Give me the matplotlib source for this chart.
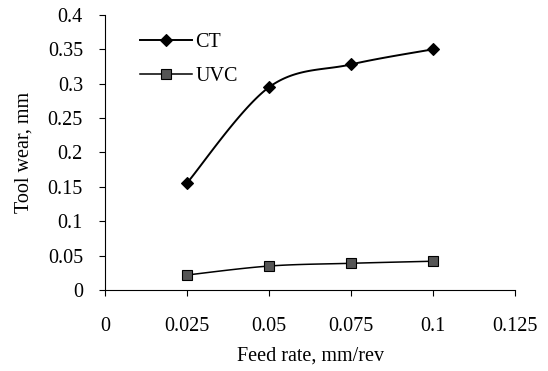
import numpy as np
import matplotlib
matplotlib.use("Agg")
import matplotlib.pyplot as plt

feed_rate = [0.025, 0.05, 0.075, 0.1]
wear_ct = [0.156, 0.295, 0.328, 0.350]
wear_uvc = [0.022, 0.035, 0.039, 0.042]
x_ticks = [0, 0.025, 0.05, 0.075, 0.1, 0.125]
x_tick_labels = ["0", "0.025", "0.05", "0.075", "0.1", "0.125"]
y_ticks = [0, 0.05, 0.1, 0.15, 0.2, 0.25, 0.3, 0.35, 0.4]
y_tick_labels = ["0", "0.05", "0.1", "0.15", "0.2", "0.25", "0.3", "0.35", "0.4"]

plt.rcParams["font.family"] = ["Liberation Serif", "DejaVu Serif"]
FS = 14.5


def smooth_curve(x, y, n=40, tension=1 / 6):
    """Cubic Bezier smoothing through every data point (spreadsheet style)."""
    x = np.asarray(x, float)
    y = np.asarray(y, float)
    px = np.concatenate([[x[0]], x, [x[-1]]])
    py = np.concatenate([[y[0]], y, [y[-1]]])
    xs, ys = [], []
    t = np.linspace(0, 1, n)
    for i in range(len(x) - 1):
        p0 = np.array([px[i + 1], py[i + 1]])
        p3 = np.array([px[i + 2], py[i + 2]])
        c1 = p0 + tension * (np.array([px[i + 2], py[i + 2]]) - np.array([px[i], py[i]]))
        c2 = p3 - tension * (np.array([px[i + 3], py[i + 3]]) - np.array([px[i + 1], py[i + 1]]))
        b = ((1 - t) ** 3)[:, None] * p0 + (3 * (1 - t) ** 2 * t)[:, None] * c1 \
            + (3 * (1 - t) * t ** 2)[:, None] * c2 + (t ** 3)[:, None] * p3
        xs.append(b[:, 0])
        ys.append(b[:, 1])
    return np.concatenate(xs), np.concatenate(ys)


fig = plt.figure(figsize=(5.48, 3.71), dpi=100)
ax = fig.add_axes([0.192, 0.218, 0.748, 0.742])

for xs_, ys_, marker, face, size, lw, label in [
    (feed_rate, wear_ct, "D", "black", 6.5, 1.4, "CT"),
    (feed_rate, wear_uvc, "s", "#555555", 7, 1.1, "UVC"),
]:
    sx, sy = smooth_curve(xs_, ys_)
    ax.plot(sx, sy, color="black", lw=lw, zorder=2)
    ax.plot(xs_, ys_, ls="none", marker=marker, ms=size, mfc=face,
            mec="black", mew=0.8, zorder=3)
    ax.plot([], [], color="black", lw=lw, marker=marker, ms=size,
            mfc=face, mec="black", mew=0.8, label=label)

ax.set_xlim(0, 0.125)
ax.set_ylim(0, 0.4)
ax.set_xticks(x_ticks)
ax.set_xticklabels(x_tick_labels)
ax.set_yticks(y_ticks)
ax.set_yticklabels(y_tick_labels)
ax.tick_params(axis="both", labelsize=FS, direction="out", length=4,
               width=0.8, colors="black")
ax.tick_params(axis="x", pad=15)
ax.tick_params(axis="y", pad=12)
for side in ("top", "right"):
    ax.spines[side].set_visible(False)
for side in ("left", "bottom"):
    ax.spines[side].set_linewidth(0.8)

ax.set_xlabel("Feed rate, mm/rev", fontsize=FS, labelpad=8)
ax.set_ylabel("Tool wear, mm", fontsize=FS, labelpad=10)

leg = ax.legend(loc="upper left", bbox_to_anchor=(0.065, 0.965), frameon=False,
                fontsize=FS, handlelength=2.6, handletextpad=0.15,
                labelspacing=0.75, borderaxespad=0)

fig.savefig("out.png", dpi=100)
